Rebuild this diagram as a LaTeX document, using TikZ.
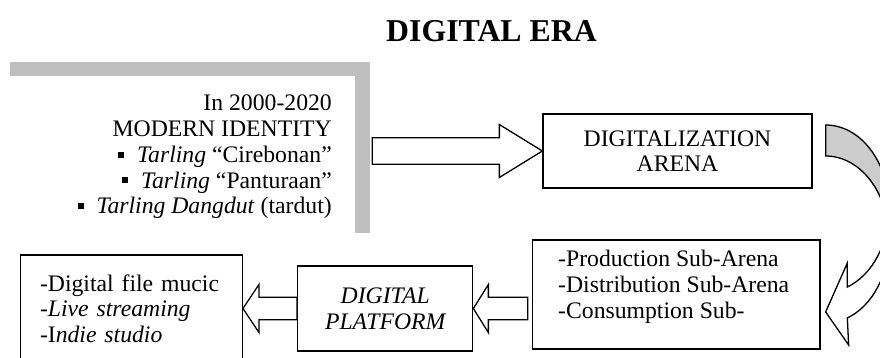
\documentclass[tikz,border=0pt]{standalone}
\usepackage{fontspec}
\setmainfont{Liberation Serif}
\usetikzlibrary{calc,shadows}

\definecolor{shadowgray}{RGB}{191,191,191}
\definecolor{bendgray}{RGB}{204,204,204}

\tikzset{
    bodytext/.style={font=\fontsize{23.7}{25.7}\selectfont, inner sep=0pt},
    framebox/.style={bodytext, draw, line width=1.3pt, fill=white},
    fatline/.style={draw, line width=1.3pt, fill=white, line join=miter},
    bendline/.style={draw, line width=1.3pt}
}

% block arrow: tail, tip, head length, head half width, shaft half width
\newcommand{\fatarrow}[5]{%
    \coordinate (fathead) at ($(#2)!#3!(#1)$);
    \draw[fatline] (#2) -- ($(fathead)!#4!90:(#2)$) -- ($(fathead)!#5!90:(#2)$)
        -- ($(#1)!#5!90:(#2)$) -- ($(#1)!#5!-90:(#2)$)
        -- ($(fathead)!#5!-90:(#2)$) -- ($(fathead)!#4!-90:(#2)$) -- cycle;
}
\newcommand{\sqbullet}{\rule[4.7pt]{6pt}{6pt}\hspace{13pt}}

\begin{document}
\begin{tikzpicture}[x=1pt, y=-1pt]
    \useasboundingbox (0,0) rectangle (880,357);

    \node[font=\fontsize{31.8}{36}\selectfont\bfseries, inner sep=0pt] (title) at (491.5,31) {DIGITAL ERA};

    % modern identity frame
    \node[bodytext, fill=white, minimum width=360pt, minimum height=171pt,
        general shadow={shadow xshift=15pt, shadow yshift=14pt, fill=shadowgray}] (identbox) at (175,161.5) {};
    \node[bodytext, anchor=north east, align=right] (identtext) at (332,95) {
        In 2000-2020\\
        MODERN IDENTITY\\
        \sqbullet\textit{Tarling} “Cirebonan”\\
        \sqbullet\textit{Tarling} “Panturaan”\\
        \sqbullet\textit{Tarling Dangdut} (tardut)};

    \node[framebox, minimum width=269pt, minimum height=74pt, align=center] (arena) at (677.5,151) {DIGITALIZATION\\ARENA};

    \node[framebox, minimum width=287.7pt, minimum height=109pt] (sub) at (676.2,294.5) {};
    \node[bodytext, anchor=north west, align=left] (subtext) at (558,250) {
        -Production Sub-Arena\\
        -Distribution Sub-Arena\\
        -Consumption Sub-};

    \node[framebox, minimum width=175pt, minimum height=85pt, align=center,
        font=\fontsize{23.7}{25.7}\selectfont\itshape] (plat) at (385.2,308.5) {DIGITAL\\PLATFORM};

    \node[framebox, minimum width=221.6pt, minimum height=107pt, text width=183pt, align=left] (list) at (131.5,308.5) {
        -Digital file mucic\\
        -\textit{Live streaming}\\
        -I\textit{ndie studio}};

    % arrows
    \coordinate (idtail) at ($(identbox.east |- arena.west)+(17,0)$);
    \fatarrow{idtail}{arena.west}{43pt}{26.5pt}{13.3pt}

    \coordinate (subtail) at ($(sub.west |- plat.east)+(-4,0)$);
    \fatarrow{subtail}{plat.east}{15pt}{24pt}{11.2pt}

    \fatarrow{plat.west}{list.east}{16pt}{24pt}{11.2pt}

    % curved arrow
    \coordinate (bendstart) at ($(arena.east)+(13,-26)$);
    \filldraw[bendline, fill=bendgray] (bendstart)
        arc[start angle=90, end angle=0, x radius=63.4pt, y radius=83.5pt] -- ++(0,31)
        arc[start angle=0, end angle=90, x radius=63.4pt, y radius=83.5pt] -- cycle;
    \filldraw[bendline, fill=white] ($(bendstart)+(63.4,83.5)$)
        arc[start angle=0, end angle=-70, x radius=63.4pt, y radius=83.5pt]
        -- ++(0,-24) -- ++(-21.7,49) -- ++(23,33) -- ++(-1.3,-27)
        arc[start angle=-70, end angle=0, x radius=63.4pt, y radius=83.5pt] -- cycle;
\end{tikzpicture}
\end{document}
